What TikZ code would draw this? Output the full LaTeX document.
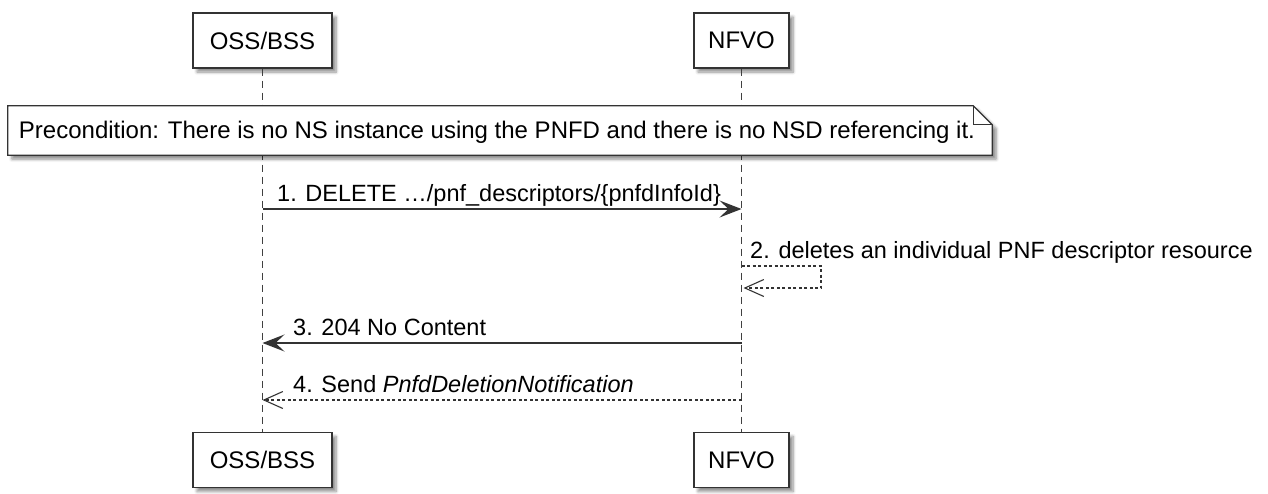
\documentclass[tikz,border=0pt]{standalone}
\usepackage{fontspec}
\setmainfont{Liberation Sans}
\usetikzlibrary{arrows.meta,shadows.blur}
\begin{document}
\begin{tikzpicture}[x=1pt,y=-1pt,
  font=\fontsize{23.5}{28}\selectfont,
  shad/.style={blur shadow={shadow xshift=4pt,shadow yshift=-4pt,shadow blur radius=3pt,shadow blur steps=6,shadow opacity=45}},
  participant/.style={draw=black!80,line width=1.3pt,fill=white,minimum width=#1,minimum height=55pt,inner sep=0pt,shad},
  lifeline/.style={draw=black!75,line width=1pt,dash pattern=on 7pt off 5pt},
  msg/.style={draw=black!80,line width=1.3pt},
  reply/.style={draw=black!80,line width=1.1pt,dash pattern=on 3pt off 2.5pt},
  fulltip/.style={-{Stealth[length=22pt,width=17pt,inset=9pt]}},
  opentip/.style={-{Straight Barb[length=19pt,width=17pt,line width=1.1pt]}},
  lbl/.style={anchor=base west,inner sep=0pt}
]
\useasboundingbox (0,0) rectangle (1268,493);

% participants
\node[participant=139pt] (ossT) at (262.5,40.5) {\raisebox{-2.5pt}{\fontsize{24}{28}\selectfont OSS/BSS}};
\node[participant=95pt] (nfvoT) at (741.5,40.5) {\raisebox{-2.5pt}{\fontsize{24}{28}\selectfont NFVO}};
\node[participant=139pt] (ossB) at (262.5,460) {\raisebox{-2.5pt}{\fontsize{24}{28}\selectfont OSS/BSS}};
\node[participant=95pt] (nfvoB) at (741.5,460) {\raisebox{-2.5pt}{\fontsize{24}{28}\selectfont NFVO}};

% lifelines
\draw[lifeline] (ossT.south) -- (ossB.north);
\draw[lifeline] (nfvoT.south) -- (nfvoB.north);

% note
\node[minimum width=984pt,minimum height=49pt,inner sep=0pt] (note) at (500,130.5) {};
\path[draw=black!80,line width=1.2pt,fill=white,shad]
  (note.north west) -- ([xshift=-19pt]note.north east) -- ([yshift=-19pt]note.north east)
  -- (note.south east) -- (note.south west) -- cycle;
\draw[black!80,line width=1.2pt] ([xshift=-19pt]note.north east) |- ([yshift=-19pt]note.north east);
\node[anchor=base,inner sep=0pt,font=\fontsize{24}{28}\selectfont] at (497,138) {Precondition: There is no NS instance using the PNFD and there is no NSD referencing it.};

% message coordinates
\coordinate (m1o) at (ossT.south |- 0,209);
\coordinate (m1n) at (nfvoT.south |- 0,209);
\coordinate (m2a) at (nfvoT.south |- 0,266);
\coordinate (m2b) at (821,266);
\coordinate (m2c) at (821,288);
\coordinate (m2d) at ([xshift=2pt]nfvoT.south |- 0,288);
\coordinate (m3n) at (nfvoT.south |- 0,343);
\coordinate (m3o) at (ossT.south |- 0,343);
\coordinate (m4n) at (nfvoT.south |- 0,400);
\coordinate (m4o) at (ossT.south |- 0,400);

\draw[msg,fulltip] (m1o) -- (m1n);
\node[lbl] at (277,201) {1. DELETE …/pnf\_descriptors/\{pnfdInfoId\}};

\draw[reply,opentip] (m2a) -- (m2b) -- (m2c) -- (m2d);
\node[lbl] at (750,258) {2. deletes an individual PNF descriptor resource};

\draw[msg,fulltip] (m3n) -- (m3o);
\node[lbl] at (293,335) {3. 204 No Content};

\draw[reply,opentip] (m4n) -- (m4o);
\node[lbl] at (293,392) {4. Send \textit{PnfdDeletionNotification}};
\end{tikzpicture}
\end{document}
